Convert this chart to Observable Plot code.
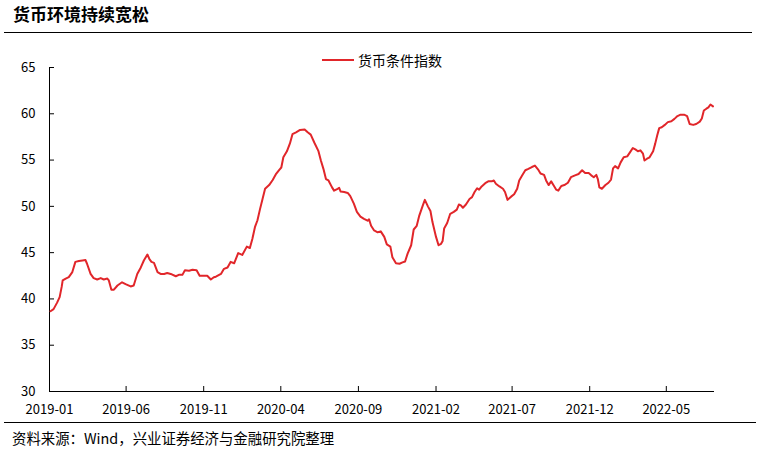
<!DOCTYPE html>
<html><head><meta charset="utf-8">
<script src="https://cdn.jsdelivr.net/npm/d3@7"></script>
<script src="https://cdn.jsdelivr.net/npm/@observablehq/plot@0.6"></script>
<style>
body{margin:0;background:#fff;}
#wrap{position:relative;width:760px;height:453px;overflow:hidden;font-family:"Noto Sans CJK SC","Noto Sans",sans-serif;color:#000;}
#title{position:absolute;left:13px;top:3px;font-size:17px;font-weight:bold;line-height:22px;white-space:nowrap;}
.rule{position:absolute;height:0;border-top:1.5px solid #000;}
#legend{position:absolute;left:322px;top:50px;font-size:14px;line-height:20px;display:flex;align-items:center;white-space:nowrap;}
#legend .sw{width:32px;height:0;border-top:2px solid #e1262a;margin-right:4px;}
#footer{position:absolute;left:12px;top:428px;font-size:14.4px;line-height:20px;white-space:nowrap;}
#chart{position:absolute;left:0;top:0;}
</style></head>
<body><div id="wrap">
<div id="title">货币环境持续宽松</div>
<div class="rule" style="left:4px;width:748px;top:32px;"></div>
<div id="legend"><span class="sw"></span><span>货币条件指数</span></div>
<div id="chart"></div>
<div class="rule" style="left:4px;width:752px;top:422px;"></div>
<div id="footer">资料来源：Wind，兴业证券经济与金融研究院整理</div>
</div>
<script>
const seriesName = "货币条件指数";
const dates = [
"2019-01-03","2019-01-09","2019-01-16","2019-01-21","2019-01-25","2019-01-27","2019-02-02","2019-02-08","2019-02-15","2019-02-21",
"2019-02-28","2019-03-07","2019-03-13","2019-03-16","2019-03-23","2019-03-29","2019-04-05","2019-04-12","2019-04-18","2019-04-25",
"2019-04-28","2019-05-03","2019-05-08","2019-05-15","2019-05-24","2019-05-31","2019-06-10","2019-06-16","2019-06-23","2019-06-30",
"2019-07-06","2019-07-13","2019-07-17","2019-07-21","2019-07-26","2019-08-02","2019-08-08","2019-08-15","2019-08-21","2019-08-28",
"2019-09-07","2019-09-13","2019-09-20","2019-09-25","2019-10-03","2019-10-10","2019-10-18","2019-10-24","2019-11-02","2019-11-08",
"2019-11-15","2019-11-21","2019-11-25","2019-12-05","2019-12-11","2019-12-18","2019-12-24","2019-12-31","2020-01-08","2020-01-16",
"2020-01-25","2020-01-31","2020-02-05","2020-02-10","2020-02-15","2020-02-20","2020-02-25","2020-03-01","2020-03-09","2020-03-16",
"2020-03-22","2020-03-29","2020-04-02","2020-04-06","2020-04-13","2020-04-19","2020-04-24","2020-05-01","2020-05-09","2020-05-18",
"2020-05-24","2020-05-30","2020-06-06","2020-06-14","2020-06-19","2020-06-24","2020-06-29","2020-07-04","2020-07-11","2020-07-15",
"2020-07-22","2020-07-25","2020-07-28","2020-08-04","2020-08-11","2020-08-16","2020-08-23","2020-08-29","2020-09-05","2020-09-12",
"2020-09-19","2020-09-22","2020-09-26","2020-10-02","2020-10-09","2020-10-15","2020-10-22","2020-10-27","2020-11-03","2020-11-07",
"2020-11-14","2020-11-21","2020-11-27","2020-12-02","2020-12-07","2020-12-14","2020-12-19","2020-12-25","2020-12-30","2021-01-06",
"2021-01-10","2021-01-16","2021-01-21","2021-01-25","2021-02-01","2021-02-06","2021-02-11","2021-02-14","2021-02-17","2021-02-23",
"2021-03-01","2021-03-08","2021-03-14","2021-03-18","2021-03-22","2021-03-26","2021-04-01","2021-04-08","2021-04-13","2021-04-18",
"2021-04-23","2021-04-27","2021-05-02","2021-05-09","2021-05-15","2021-05-22","2021-05-26","2021-05-30","2021-06-06","2021-06-13",
"2021-06-17","2021-06-22","2021-06-29","2021-07-05","2021-07-11","2021-07-15","2021-07-21","2021-07-27","2021-08-02","2021-08-09",
"2021-08-15","2021-08-21","2021-08-26","2021-09-02","2021-09-06","2021-09-11","2021-09-16","2021-09-21","2021-09-26","2021-09-30",
"2021-10-06","2021-10-12","2021-10-19","2021-10-25","2021-11-02","2021-11-09","2021-11-16","2021-11-22","2021-11-29","2021-12-04",
"2021-12-09","2021-12-14","2021-12-17","2021-12-20","2021-12-25","2022-01-01","2022-01-07","2022-01-12","2022-01-16","2022-01-20",
"2022-01-26","2022-01-31","2022-02-06","2022-02-13","2022-02-18","2022-02-24","2022-03-01","2022-03-06","2022-03-11","2022-03-16",
"2022-03-19","2022-03-24","2022-03-29","2022-04-05","2022-04-09","2022-04-13","2022-04-17","2022-04-22","2022-04-28","2022-05-04",
"2022-05-11","2022-05-17","2022-05-23","2022-05-29","2022-06-05","2022-06-11","2022-06-16","2022-06-23","2022-06-29","2022-07-06",
"2022-07-10","2022-07-14","2022-07-19","2022-07-23","2022-07-27","2022-08-01"
];
const values = [
38.67,38.9,39.6,40.2,41.3,42.0,42.2,42.35,42.9,44.0,
44.1,44.15,44.2,43.8,42.7,42.25,42.1,42.25,42.1,42.2,
42.0,41.0,41.0,41.45,41.8,41.6,41.35,41.45,42.7,43.4,
44.15,44.8,44.3,44.0,43.9,42.9,42.7,42.7,42.8,42.7,
42.45,42.6,42.6,43.1,43.05,43.15,43.1,42.5,42.5,42.5,
42.1,42.35,42.4,42.7,43.25,43.4,44.0,43.85,44.95,44.75,
45.65,45.5,46.5,47.75,48.5,49.7,50.8,51.9,52.3,52.85,
53.45,53.95,54.2,55.3,55.95,56.8,57.8,58.0,58.25,58.3,
58.0,57.75,56.9,56.0,54.95,54.05,52.95,52.8,52.05,51.7,
51.9,52.0,51.6,51.55,51.45,51.1,50.3,49.4,48.9,48.65,
48.45,48.6,47.9,47.4,47.2,47.3,46.7,45.9,45.65,44.5,
43.85,43.8,43.95,44.05,44.9,45.8,47.5,47.9,49.0,50.1,
50.7,50.0,49.5,48.3,46.7,45.8,45.95,46.25,47.6,48.2,
49.2,49.4,49.65,50.2,50.1,49.85,50.2,50.8,51.0,51.55,
51.95,51.8,52.15,52.5,52.7,52.7,52.8,52.45,52.15,51.9,
51.55,50.7,51.05,51.3,51.9,52.8,53.35,53.9,54.05,54.25,
54.4,54.0,53.55,53.4,52.8,52.3,52.7,52.25,51.8,51.7,
52.2,52.3,52.55,53.15,53.35,53.5,53.9,53.6,53.6,53.35,
53.15,53.4,52.95,52.05,51.9,52.3,52.55,52.9,54.1,54.35,
54.1,54.75,55.3,55.4,55.8,56.3,56.15,55.95,56.05,55.7,
54.95,55.15,55.3,55.95,56.75,57.65,58.45,58.55,58.8,59.1,
59.2,59.45,59.75,59.9,59.9,59.75,58.9,58.8,58.9,59.15,
59.5,60.35,60.55,60.7,61.0,60.8
];
const xTickDates = ["2019-01-01","2019-06-01","2019-11-01","2020-04-01","2020-09-01","2021-02-01","2021-07-01","2021-12-01","2022-05-01"];
const yTicks = [30,35,40,45,50,55,60,65];
const xStart = "2019-01-01", xEnd = "2022-08-04";

const data = dates.map((d, i) => ({date: new Date(d), value: values[i]}));
const xTicks = xTickDates.map(d => new Date(d));

const chart = Plot.plot({
  width: 760, height: 453,
  marginTop: 67, marginBottom: 62, marginLeft: 49, marginRight: 46,
  style: {fontFamily: '"Noto Sans CJK SC","Noto Sans",sans-serif', fontSize: "13px", color: "#000", background: "transparent"},
  x: {type: "utc", domain: [new Date(xStart), new Date(xEnd)]},
  y: {domain: [30, 65]},
  marks: [
    Plot.axisY(yTicks, {anchor: "left", tickSize: 5, dx: 5, tickPadding: 14, label: null, fontSize: 13}),
    Plot.axisX(xTicks, {anchor: "bottom", tickSize: 5, dy: -5, tickPadding: 13, label: null, fontSize: 13, tickFormat: d3.utcFormat("%Y-%m")}),
    Plot.ruleY([30], {stroke: "#000", strokeWidth: 1}),
    Plot.ruleX([new Date(xStart)], {stroke: "#000", strokeWidth: 1}),
    Plot.line(data, {x: "date", y: "value", stroke: "#e1262a", strokeWidth: 2, title: () => seriesName})
  ]
});
document.getElementById("chart").appendChild(chart);
</script>
</body></html>
